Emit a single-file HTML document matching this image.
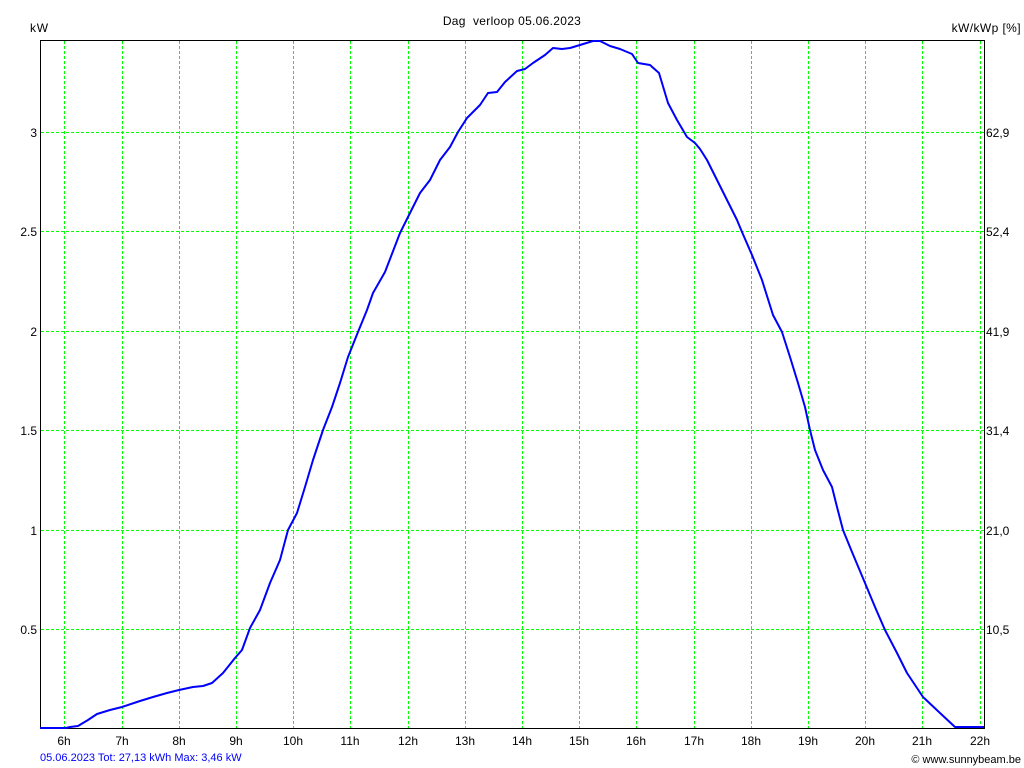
<!DOCTYPE html>
<html>
<head>
<meta charset="utf-8">
<style>
html,body{margin:0;padding:0;background:#fff;}
svg{display:block;}
text{font-family:"Liberation Sans",Arial,sans-serif;font-size:12px;fill:#000;}
</style>
</head>
<body>
<svg width="1024" height="768" viewBox="0 0 1024 768" xmlns="http://www.w3.org/2000/svg">
<rect x="0" y="0" width="1024" height="768" fill="#fff"/>
<!-- grid -->
<g stroke="#00ff00" stroke-width="1" stroke-dasharray="3 2" shape-rendering="crispEdges">
<line x1="41" y1="132.5" x2="984" y2="132.5"/>
<line x1="41" y1="231.5" x2="984" y2="231.5"/>
<line x1="41" y1="331.5" x2="984" y2="331.5"/>
<line x1="41" y1="430.5" x2="984" y2="430.5"/>
<line x1="41" y1="530.5" x2="984" y2="530.5"/>
<line x1="41" y1="629.5" x2="984" y2="629.5"/>
<line x1="64.5" y1="41" x2="64.5" y2="728"/>
<line x1="122.5" y1="41" x2="122.5" y2="728"/>
<line x1="179.5" y1="41" x2="179.5" y2="728"/>
<line x1="236.5" y1="41" x2="236.5" y2="728"/>
<line x1="293.5" y1="41" x2="293.5" y2="728"/>
<line x1="350.5" y1="41" x2="350.5" y2="728"/>
<line x1="408.5" y1="41" x2="408.5" y2="728"/>
<line x1="465.5" y1="41" x2="465.5" y2="728"/>
<line x1="522.5" y1="41" x2="522.5" y2="728"/>
<line x1="579.5" y1="41" x2="579.5" y2="728"/>
<line x1="636.5" y1="41" x2="636.5" y2="728"/>
<line x1="694.5" y1="41" x2="694.5" y2="728"/>
<line x1="751.5" y1="41" x2="751.5" y2="728"/>
<line x1="808.5" y1="41" x2="808.5" y2="728"/>
<line x1="865.5" y1="41" x2="865.5" y2="728"/>
<line x1="922.5" y1="41" x2="922.5" y2="728"/>
<line x1="980.5" y1="41" x2="980.5" y2="728"/>
</g>
<!-- axes frame -->
<g stroke="#000" stroke-width="1" shape-rendering="crispEdges" fill="none">
<line x1="40.5" y1="40.5" x2="984.5" y2="40.5"/>
<line x1="40.5" y1="40" x2="40.5" y2="729"/>
<line x1="984.5" y1="40" x2="984.5" y2="729"/>
<line x1="40" y1="728.5" x2="985" y2="728.5"/>
</g>
<!-- series -->
<polyline fill="none" stroke="#0000ff" stroke-width="2" stroke-linejoin="round" points="40,728 66,728 70,727 78,726 88,720 97,714 110,710 122,707 140,701 153,697 167,693 179,690 193,687 203,686 212,683 223,673 235,658 242,650 250,628 260,610 270,583 280,560 288,530 297,513 305,487 313,460 323,430 332,407 340,383 348,357 358,332 367,310 373,293 385,272 400,233 409,215 420,193 430,180 440,160 450,147 458,132 467,118 480,105 488,93 497,92 505,82 517,71 525,69 533,63 545,55 553,48 562,49 570,48 580,45 593,41 600,41 610,46 620,49 632,54 638,63 650,65 659,73 668,103 677,120 687,137 695,143 700,149 707,160 717,180 727,200 737,220 742,232 752,255 762,280 773,315 782,332 790,357 798,383 805,407 810,430 815,450 823,470 832,487 837,507 843,530 852,552 865,583 875,607 885,630 897,653 907,673 923,697 940,713 955,727 984,727"/>
<!-- title & axis labels -->
<text x="512" y="25" text-anchor="middle" xml:space="preserve" style="letter-spacing:0.3px">Dag  verloop 05.06.2023</text>
<text x="30" y="32" style="letter-spacing:0.8px">kW</text>
<text x="1021" y="32" text-anchor="end" style="letter-spacing:0.4px">kW/kWp [%]</text>
<!-- left ticks -->
<g text-anchor="end">
<text x="37" y="137">3</text>
<text x="37" y="236">2.5</text>
<text x="37" y="336">2</text>
<text x="37" y="435">1.5</text>
<text x="37" y="535">1</text>
<text x="37" y="634">0.5</text>
</g>
<!-- right ticks -->
<g>
<text x="986" y="137">62,9</text>
<text x="986" y="236">52,4</text>
<text x="986" y="336">41,9</text>
<text x="986" y="435">31,4</text>
<text x="986" y="535">21,0</text>
<text x="986" y="634">10,5</text>
</g>
<!-- bottom ticks -->
<g text-anchor="middle">
<text x="64" y="745">6h</text>
<text x="122" y="745">7h</text>
<text x="179" y="745">8h</text>
<text x="236" y="745">9h</text>
<text x="293" y="745">10h</text>
<text x="350" y="745">11h</text>
<text x="408" y="745">12h</text>
<text x="465" y="745">13h</text>
<text x="522" y="745">14h</text>
<text x="579" y="745">15h</text>
<text x="636" y="745">16h</text>
<text x="694" y="745">17h</text>
<text x="751" y="745">18h</text>
<text x="808" y="745">19h</text>
<text x="865" y="745">20h</text>
<text x="922" y="745">21h</text>
<text x="980" y="745">22h</text>
</g>
<text x="40" y="761" style="font-size:11px;fill:#0000ff">05.06.2023 Tot: 27,13 kWh Max: 3,46 kW</text>
<text x="1021" y="763" text-anchor="end" style="font-size:11px">© www.sunnybeam.be</text>
</svg>
</body>
</html>
